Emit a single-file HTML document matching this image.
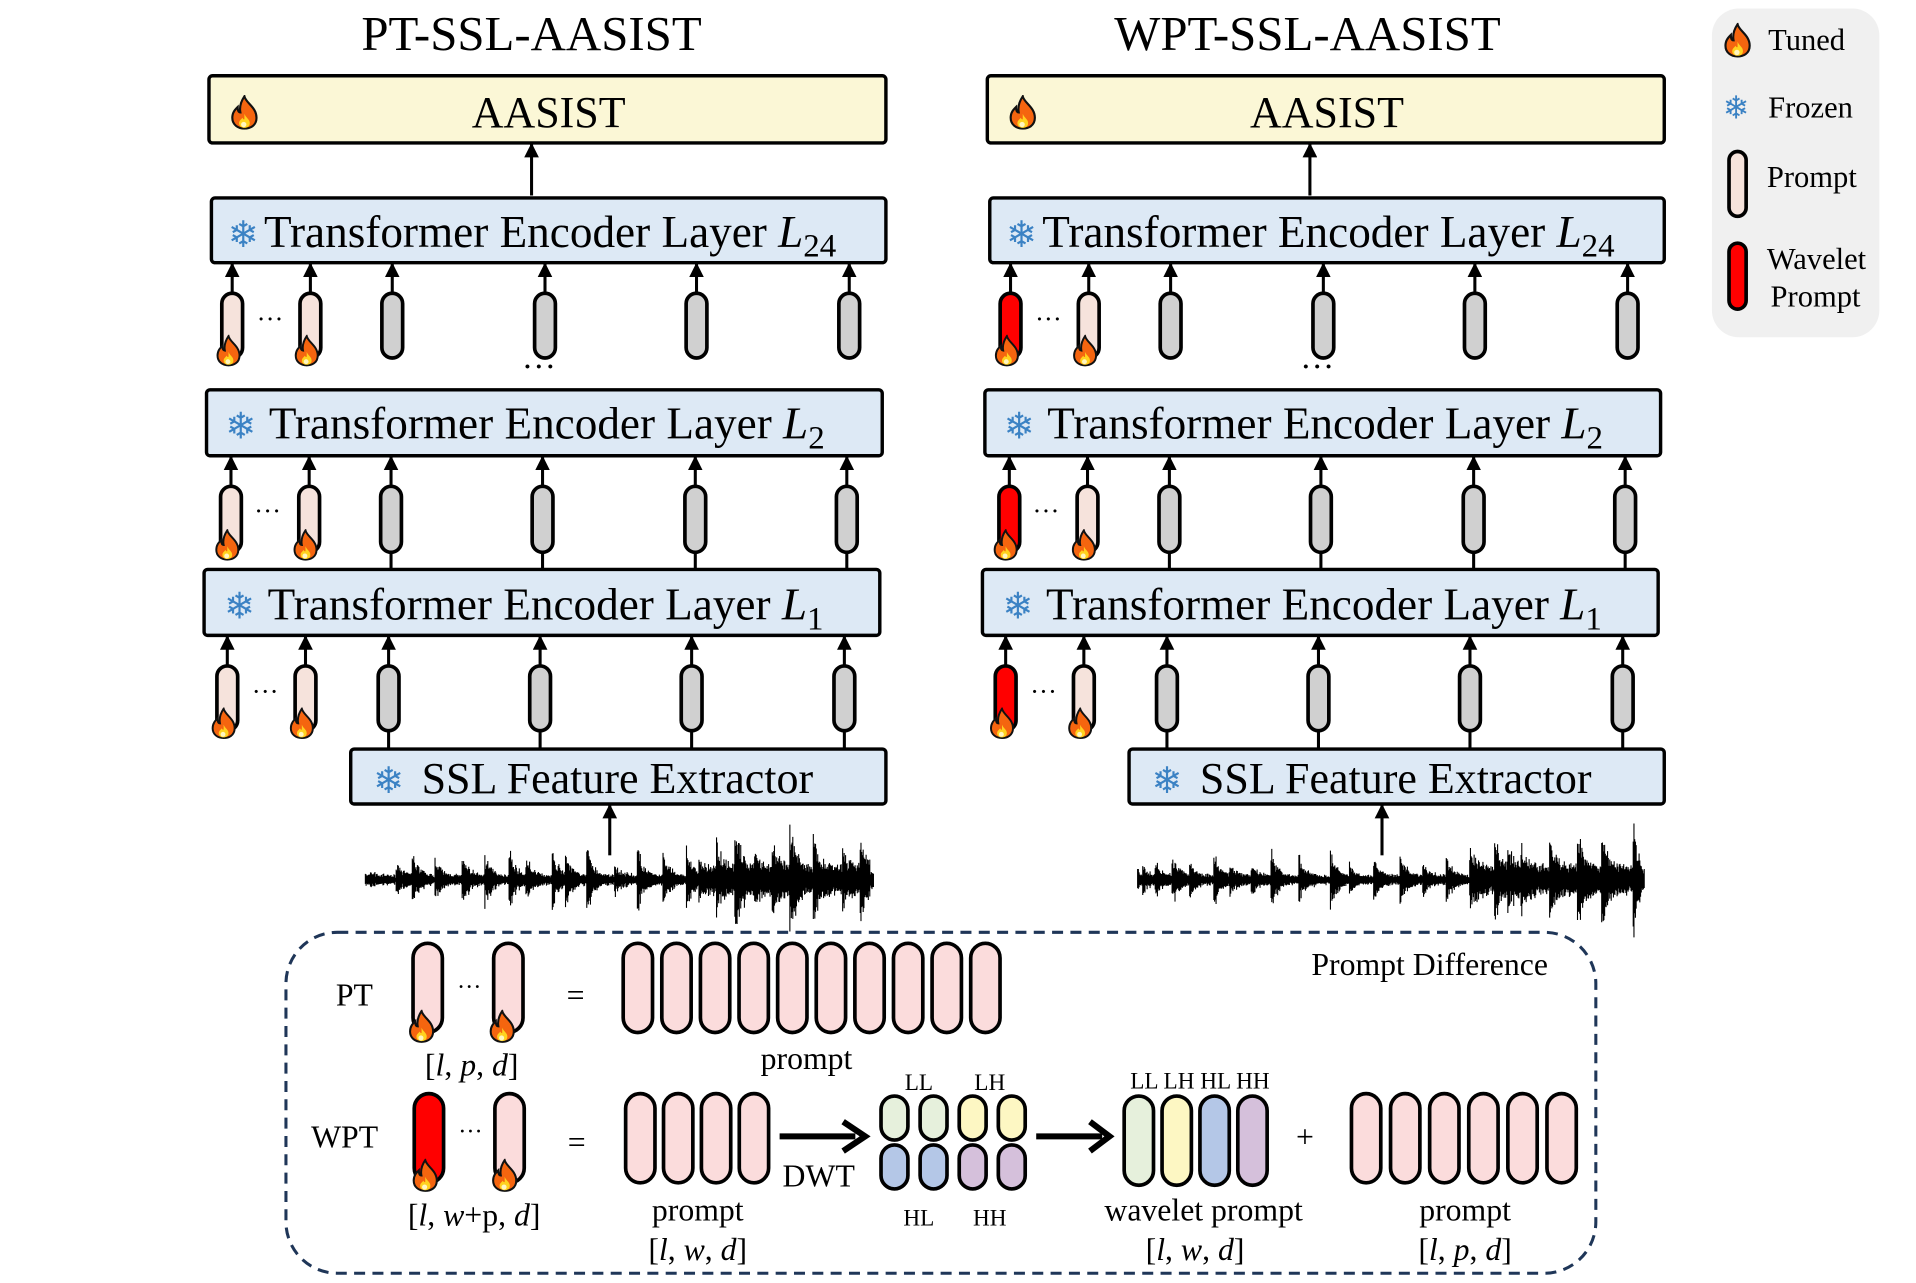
<!DOCTYPE html>
<html><head><meta charset="utf-8"><style>
html,body{margin:0;padding:0;background:#fff;}
svg{display:block;}
text{font-family:"Liberation Serif",serif;fill:#000;}
.snow{font-family:"DejaVu Sans",sans-serif;fill:#3b82c4;}
</style></head><body>
<svg id="s" width="1916" height="1283" viewBox="0 0 1568 1050" xmlns="http://www.w3.org/2000/svg">
<defs>
<symbol id="flame" viewBox="0 0 22 26">
<path d="M11 1 C 12 6, 20 9, 20 17 C 20 23, 15 25, 11 25 C 6 25, 2 22, 2 17 C 2 13, 4 11, 6 9 C 6 12, 7 13, 8 13 C 7 8, 9 4, 11 1 Z" fill="#f5650f" stroke="#111" stroke-width="1.6"/>
<path d="M11 14 C 12 17, 15 18, 15 21 C 15 23.5, 13 24.5, 11 24.5 C 8.5 24.5, 7 23, 7 21 C 7 19, 9 18, 9.5 17 C 10 18, 10.5 18.5, 11 18 Z" fill="#ffd21f"/>
<circle cx="10.5" cy="22" r="2" fill="#fff6c0"/>
</symbol>
<marker id="ah" markerWidth="12" markerHeight="12" refX="9" refY="5" orient="auto" markerUnits="userSpaceOnUse" viewBox="0 0 10 10">
<path d="M0 0 L10 5 L0 10 Z" fill="#000"/>
</marker>
</defs>

<text x="435" y="41" font-size="40" text-anchor="middle">PT-SSL-AASIST</text>
<text x="1070" y="41" font-size="40" text-anchor="middle">WPT-SSL-AASIST</text>

<rect x="1401" y="7" width="137" height="269" rx="22" fill="#f0f0f0"/>
<rect x="234" y="763" width="1072" height="279" rx="42" fill="none" stroke="#1f3658" stroke-width="2.5" stroke-dasharray="9,6"/>

<g id="dyn"></g>

<text x="449" y="104" font-size="36" text-anchor="middle">AASIST</text>
<text class="snow" x="199" y="202" font-size="30" text-anchor="middle">❄</text>
<text x="216" y="202" font-size="37">Transformer Encoder Layer <tspan font-style="italic">L</tspan><tspan font-size="27" dy="8">24</tspan></text>
<text class="snow" x="197" y="359" font-size="30" text-anchor="middle">❄</text>
<text x="220" y="359" font-size="37">Transformer Encoder Layer <tspan font-style="italic">L</tspan><tspan font-size="27" dy="8">2</tspan></text>
<text class="snow" x="196" y="506" font-size="30" text-anchor="middle">❄</text>
<text x="219" y="507" font-size="37">Transformer Encoder Layer <tspan font-style="italic">L</tspan><tspan font-size="27" dy="8">1</tspan></text>
<text class="snow" x="318" y="649" font-size="30" text-anchor="middle">❄</text>
<text x="345" y="649" font-size="36">SSL Feature Extractor</text>
<text x="221" y="268" font-size="22" text-anchor="middle">···</text>
<text x="219" y="425" font-size="22" text-anchor="middle">···</text>
<text x="217" y="573" font-size="22" text-anchor="middle">···</text>
<text x="441" y="309" font-size="28" text-anchor="middle">···</text>

<text x="1086" y="104" font-size="36" text-anchor="middle">AASIST</text>
<text class="snow" x="836" y="202" font-size="30" text-anchor="middle">❄</text>
<text x="853" y="202" font-size="37">Transformer Encoder Layer <tspan font-style="italic">L</tspan><tspan font-size="27" dy="8">24</tspan></text>
<text class="snow" x="834" y="359" font-size="30" text-anchor="middle">❄</text>
<text x="857" y="359" font-size="37">Transformer Encoder Layer <tspan font-style="italic">L</tspan><tspan font-size="27" dy="8">2</tspan></text>
<text class="snow" x="833" y="506" font-size="30" text-anchor="middle">❄</text>
<text x="856" y="507" font-size="37">Transformer Encoder Layer <tspan font-style="italic">L</tspan><tspan font-size="27" dy="8">1</tspan></text>
<text class="snow" x="955" y="649" font-size="30" text-anchor="middle">❄</text>
<text x="982" y="649" font-size="36">SSL Feature Extractor</text>
<text x="858" y="268" font-size="22" text-anchor="middle">···</text>
<text x="856" y="425" font-size="22" text-anchor="middle">···</text>
<text x="854" y="573" font-size="22" text-anchor="middle">···</text>
<text x="1078" y="309" font-size="28" text-anchor="middle">···</text>

<text x="1447" y="41" font-size="25">Tuned</text>
<text class="snow" x="1421" y="97" font-size="26" text-anchor="middle">❄</text>
<text x="1447" y="96" font-size="25">Frozen</text>
<text x="1446" y="153" font-size="25">Prompt</text>
<text x="1446" y="220" font-size="25">Wavelet</text>
<text x="1449" y="251" font-size="25">Prompt</text>

<text x="1170" y="798" font-size="26" text-anchor="middle">Prompt Difference</text>
<text x="290" y="823" font-size="26" text-anchor="middle">PT</text>
<text x="384" y="814" font-size="20" text-anchor="middle">···</text>
<text x="471" y="823" font-size="26" text-anchor="middle">=</text>
<text x="386" y="880" font-size="26" text-anchor="middle">[<tspan font-style="italic">l</tspan>, <tspan font-style="italic">p</tspan>, <tspan font-style="italic">d</tspan>]</text>
<text x="660" y="875" font-size="26" text-anchor="middle">prompt</text>
<text x="282" y="939" font-size="26" text-anchor="middle">WPT</text>
<text x="385" y="932" font-size="20" text-anchor="middle">···</text>
<text x="472" y="943" font-size="26" text-anchor="middle">=</text>
<text x="388" y="1003" font-size="26" text-anchor="middle">[<tspan font-style="italic">l</tspan>, <tspan font-style="italic">w</tspan>+p, <tspan font-style="italic">d</tspan>]</text>
<text x="670" y="971" font-size="26" text-anchor="middle">DWT</text>
<text x="752" y="892" font-size="19" text-anchor="middle">LL</text>
<text x="810" y="892" font-size="19" text-anchor="middle">LH</text>
<text x="752" y="1003" font-size="19" text-anchor="middle">HL</text>
<text x="810" y="1003" font-size="19" text-anchor="middle">HH</text>
<text x="982" y="891" font-size="19" text-anchor="middle">LL LH HL HH</text>
<text x="1068" y="939" font-size="26" text-anchor="middle">+</text>
<text x="571" y="999" font-size="26" text-anchor="middle">prompt</text>
<text x="571" y="1031" font-size="26" text-anchor="middle">[<tspan font-style="italic">l</tspan>, <tspan font-style="italic">w</tspan>, <tspan font-style="italic">d</tspan>]</text>
<text x="985" y="999" font-size="26" text-anchor="middle">wavelet prompt</text>
<text x="978" y="1031" font-size="26" text-anchor="middle">[<tspan font-style="italic">l</tspan>, <tspan font-style="italic">w</tspan>, <tspan font-style="italic">d</tspan>]</text>
<text x="1199" y="999" font-size="26" text-anchor="middle">prompt</text>
<text x="1199" y="1031" font-size="26" text-anchor="middle">[<tspan font-style="italic">l</tspan>, <tspan font-style="italic">p</tspan>, <tspan font-style="italic">d</tspan>]</text>
</svg>
<script>
(function(){
var g=document.getElementById("dyn");
var out=[];
function rect(x,y,w,h,fill,rx,sw){out.push('<rect x="'+x+'" y="'+y+'" width="'+w+'" height="'+h+'" rx="'+(rx||0)+'" fill="'+fill+'" stroke="#000" stroke-width="'+(sw||2.5)+'"/>');}
function tok(cx,y1,y2,fill,w){w=w||16;out.push('<rect x="'+(cx-w/2)+'" y="'+y1+'" width="'+w+'" height="'+(y2-y1)+'" rx="'+(w/2)+'" fill="'+fill+'" stroke="#000" stroke-width="3"/>');}
function line(x1,y1,x2,y2,arrow,sw){out.push('<line x1="'+x1+'" y1="'+y1+'" x2="'+x2+'" y2="'+y2+'" stroke="#000" stroke-width="'+(sw||2.5)+'"'+(arrow?' marker-end="url(#ah)"':'')+'/>');}
function flame(cx,cy,s){s=s||1;var w=22*s,h=26*s;out.push('<use href="#flame" x="'+(cx-w/2)+'" y="'+(cy-h/2)+'" width="'+w+'" height="'+h+'"/>');}
var PINK="#f6e3dc",GRAY="#d0d0d0",RED="#ff0000",BP="#fbdcdc";
function panel(dx,wav){
 rect(171+dx,62,554,55,"#fbf7d6",3,2.8);
 flame(200+dx,92,1.1);
 line(435+dx,160,435+dx,118,true);
 rect(173+dx,162,552,53,"#dde9f5",3,2.8);
 rect(169+dx,319,553,54,"#dde9f5",3,2.8);
 rect(167+dx,466,553,54,"#dde9f5",3,2.8);
 rect(287+dx,613,438,45,"#dde9f5",3,2.8);
 var rows=[{y1:240,y2:293,top:215,bot:null,xs:[190,254,321,446,570,695]},
           {y1:398,y2:452,top:373,bot:466,xs:[189,253,320,444,569,693]},
           {y1:545,y2:598,top:520,bot:613,xs:[186,250,318,442,566,691]}];
 rows.forEach(function(r){
  r.xs.forEach(function(x,i){
   x+=dx;
   if(r.bot&&i>=2)line(x,r.y2,x,r.bot);
   line(x,r.y1,x,r.top+1,true);
   var f=i>=2?GRAY:(i==0&&wav?RED:PINK);
   tok(x,r.y1,r.y2,f,17);
   if(i<2)flame(x-3,r.y2-6,1);
  });
 });
 var ax=wav?1131:499;
 line(ax,700,ax,659,true);
}
panel(0,false);panel(637,true);
var seed=7;function rnd(){seed=(seed*16807)%2147483647;return seed/2147483647;}
function wave(x0,x1,cy,split){
 var d="";
 var bursts=[];for(var b=x0;b<x1;b+=10+rnd()*16)bursts.push([b,0.4+rnd()*0.7]);
 for(var x=x0;x<=x1;x+=0.6){
  var big=x>split;
  var base=big?12:4;
  var env=0;bursts.forEach(function(bb){var t=x-bb[0];if(t>=0&&t<18)env=Math.max(env,bb[1]*Math.exp(-t/5));});
  var amp=base*(0.5+0.5*rnd())+env*(big?38:26)*(0.4+0.6*rnd());
  if(x-x0<4||x1-x<3)amp*=0.5;
  var up=amp*(0.8+0.4*rnd()),dn=amp*(0.8+0.4*rnd());
  d+="M"+x.toFixed(1)+" "+(cy-up).toFixed(1)+"V"+(cy+dn).toFixed(1);
 }
 out.push('<path d="'+d+'" stroke="#000" stroke-width="0.9" fill="none"/>');
}
wave(299,715,720,572);
wave(931,1346,720,1203);
flame(1422,33,1.1);
tok(1422,124,177,PINK,14);
tok(1422,199,253,RED,14);
tok(350,772,845,BP,24);tok(416,772,845,BP,24);
flame(345,840,1.05);flame(411,840,1.05);
for(var i=0;i<10;i++)tok(522+i*31.6,772,845,BP,24);
tok(351,895,968,RED,24);tok(417,895,968,BP,24);
flame(348,962,1.05);flame(413,962,1.05);
for(var i=0;i<4;i++)tok(524+i*31,895,968,BP,24);
out.push('<line x1="638" y1="930" x2="700" y2="930" stroke="#000" stroke-width="5"/><path d="M690 918 L708 930 L690 942" fill="none" stroke="#000" stroke-width="5"/>');
var cols=["#e6f0dc","#e6f0dc","#fdf7c3","#fdf7c3"],cols2=["#b4c7e7","#b4c7e7","#d5c0db","#d5c0db"];
for(var i=0;i<4;i++){tok(732+i*32,897,933,cols[i],22);tok(732+i*32,937,973,cols2[i],22);}
out.push('<line x1="848" y1="930" x2="902" y2="930" stroke="#000" stroke-width="5"/><path d="M892 918 L908 930 L892 942" fill="none" stroke="#000" stroke-width="5"/>');
var wc=["#e6f0dc","#fdf7c3","#b4c7e7","#d5c0db"];
for(var i=0;i<4;i++)tok(932+i*31,897,970,wc[i],24);
for(var i=0;i<6;i++)tok(1118+i*32,895,968,BP,24);
g.innerHTML=out.join("");
})();
</script>
</body></html>
